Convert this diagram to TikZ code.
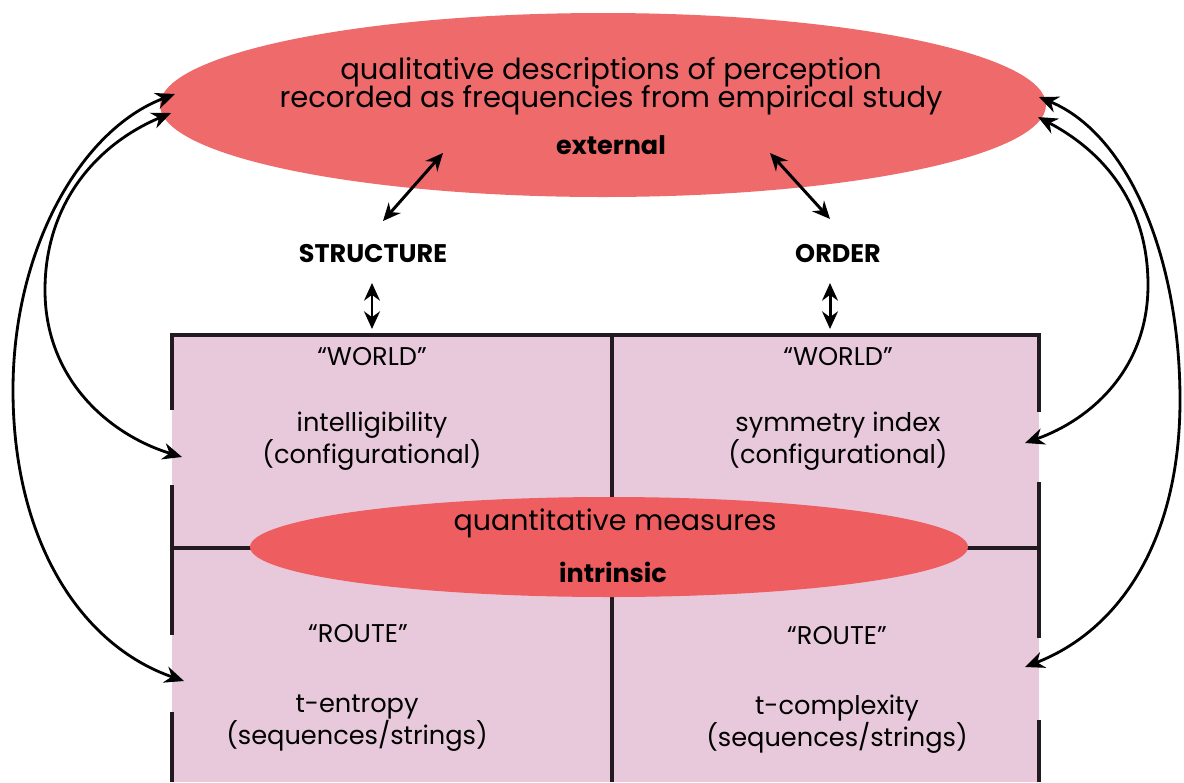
\documentclass[tikz,border=0pt]{standalone}
\usepackage{fontspec}
\setmainfont{Poppins}
\usetikzlibrary{arrows.meta}
\definecolor{topred}{HTML}{EF6A6B}
\definecolor{innerred}{HTML}{EE5D5F}
\definecolor{boxpink}{HTML}{E8C9DB}
\definecolor{linedark}{HTML}{221A20}
\tikzset{
  lbl/.style={font=\fontsize{14.6}{18.5}\selectfont, text=black, align=center, inner sep=0pt},
  blbl/.style={font=\fontsize{14.5}{18.5}\selectfont\bfseries, text=black, align=center, inner sep=0pt},
  toplbl/.style={font=\fontsize{16.5}{18.5}\selectfont, text=black, inner sep=0pt},
  boxline/.style={draw=linedark, line width=2.1pt},
  conn/.style={draw=black, line width=1.7pt, {Stealth[length=10pt,width=9pt]}-{Stealth[length=10pt,width=9pt]}},
  curv/.style={draw=black, line width=1.6pt, {Stealth[length=11pt,width=9.5pt]}-{Stealth[length=11pt,width=9.5pt]}},
}
\begin{document}
\begin{tikzpicture}[x=0.02cm, y=-0.02cm]
\useasboundingbox (0,0) rectangle (1184,782);
% box
\fill[boxpink] (172,335) rectangle (1039,782);
\draw[boxline] (172,548) -- (1039,548);
\draw[boxline] (612,335) -- (612,782);
\draw[boxline] (172,410) -- (172,335) -- (1039,335) -- (1039,412);
\draw[boxline] (172,485) -- (172,635);
\draw[boxline] (172,712) -- (172,782);
\draw[boxline] (1039,482) -- (1039,638);
\draw[boxline] (1039,720) -- (1039,782);
% inner ellipse
\fill[innerred] (609,547) ellipse [x radius=359, y radius=50];
\node[lbl, font=\fontsize{16.2}{18.5}\selectfont] (quant) at (615,523) {quantitative measures};
\node[blbl] (intr) at (613,572) {intrinsic};
% top ellipse
\fill[topred] (603,105) ellipse [x radius=443, y radius=92];
\node[toplbl, anchor=base] (qual1) at (611,79) {qualitative descriptions of perception};
\node[toplbl, anchor=base] (qual2) at (611,107) {recorded as frequencies from empirical study};
\node[blbl] (ext) at (611,145) {external};
% labels
\node[blbl] (struct) at (373,254) {STRUCTURE};
\node[blbl] (order) at (838,254) {ORDER};
\node[lbl] (w1) at (372,357) {“WORLD”};
\node[lbl] (intel) at (372,441) {intelligibility\\(configurational)};
\node[lbl] (w2) at (838,357) {“WORLD”};
\node[lbl] (sym) at (838,441) {symmetry index\\(configurational)};
\node[lbl] (r1) at (358,634) {“ROUTE”};
\node[lbl] (tent) at (357,723) {t-entropy\\(sequences/strings)};
\node[lbl] (r2) at (837,636) {“ROUTE”};
\node[lbl] (tcomp) at (837,724) {t-complexity\\(sequences/strings)};
% coordinates
\coordinate (eSL) at (443,153);
\coordinate (sU) at (383,221);
\coordinate (sD) at (372,283);
\coordinate (bS) at (372,329);
\coordinate (eOR) at (770,153);
\coordinate (oU) at (830,219);
\coordinate (oD) at (830,283);
\coordinate (bO) at (830,329);
\coordinate (tl1) at (175,94);
\coordinate (tl2) at (171,113);
\coordinate (tr1) at (1039,97);
\coordinate (tr2) at (1038,117);
\coordinate (bl1) at (184,681);
\coordinate (bl2) at (182,457);
\coordinate (br1) at (1025,667);
\coordinate (br2) at (1025,443);
% connectors
\draw[conn] (sU) -- (eSL);
\draw[conn] (oU) -- (eOR);
\draw[conn] (sD) -- (bS);
\draw[conn] (oD) -- (bO);
\draw[curv] (tl1) .. controls (80,130) and (13,250) .. (13,390) .. controls (13,540) and (80,645) .. (bl1);
\draw[curv] (tl2) .. controls (95,145) and (45,205) .. (45,290) .. controls (45,380) and (110,435) .. (bl2);
\draw[curv] (tr1) .. controls (1130,135) and (1180,260) .. (1180,400) .. controls (1180,540) and (1120,630) .. (br1);
\draw[curv] (tr2) .. controls (1110,155) and (1148,210) .. (1148,285) .. controls (1148,370) and (1090,420) .. (br2);
\end{tikzpicture}
\end{document}
